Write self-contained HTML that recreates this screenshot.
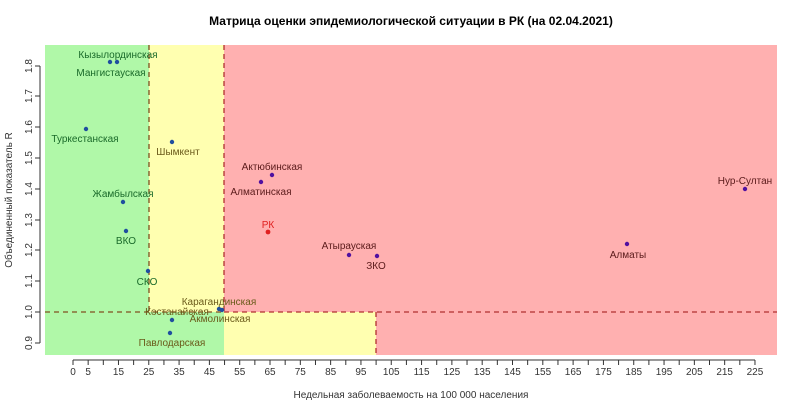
<!DOCTYPE html>
<html><head><meta charset="utf-8"><style>
body{margin:0;background:#fff}
svg text{font-family:"Liberation Sans",sans-serif}
</style></head><body>
<svg width="800" height="412" xmlns="http://www.w3.org/2000/svg">
<rect x="0" y="0" width="800" height="412" fill="#fff"/>
<text x="411" y="25" font-size="12" font-weight="bold" text-anchor="middle">Матрица оценки эпидемиологической ситуации в РК (на 02.04.2021)</text>
<!-- regions -->
<rect x="45" y="45" width="104" height="310" fill="#b0f8a8"/>
<rect x="149" y="312" width="75" height="43" fill="#b0f8a8"/>
<rect x="149" y="45" width="75" height="267" fill="#ffffb0"/>
<rect x="224" y="312" width="152" height="43" fill="#ffffb0"/>
<rect x="224" y="45" width="553" height="267" fill="#ffb0b0"/>
<rect x="376" y="312" width="401" height="43" fill="#ffb0b0"/>
<!-- dashed lines -->
<g stroke="#b03030" stroke-width="1.3" stroke-dasharray="5,4" fill="none">
<line x1="149" y1="45" x2="149" y2="312" stroke="#805020"/>
<line x1="224" y1="45" x2="224" y2="312"/>
<line x1="376" y1="312" x2="376" y2="355"/>
<line x1="45" y1="312" x2="224" y2="312" stroke="#805020"/>
<line x1="224" y1="312" x2="777" y2="312"/>
</g>
<!-- y axis -->
<g stroke="#333" stroke-width="1">
<line x1="40" y1="343" x2="40" y2="66"/>
<line x1="35" y1="343" x2="40" y2="343"/><line x1="35" y1="312" x2="40" y2="312"/>
<line x1="35" y1="281" x2="40" y2="281"/><line x1="35" y1="250" x2="40" y2="250"/>
<line x1="35" y1="220" x2="40" y2="220"/><line x1="35" y1="189" x2="40" y2="189"/>
<line x1="35" y1="158" x2="40" y2="158"/><line x1="35" y1="127" x2="40" y2="127"/>
<line x1="35" y1="96" x2="40" y2="96"/><line x1="35" y1="66" x2="40" y2="66"/>
</g>
<g font-size="10" fill="#333" text-anchor="middle">
<text transform="translate(32,343) rotate(-90)">0.9</text>
<text transform="translate(32,312) rotate(-90)">1.0</text>
<text transform="translate(32,281) rotate(-90)">1.1</text>
<text transform="translate(32,250) rotate(-90)">1.2</text>
<text transform="translate(32,220) rotate(-90)">1.3</text>
<text transform="translate(32,189) rotate(-90)">1.4</text>
<text transform="translate(32,158) rotate(-90)">1.5</text>
<text transform="translate(32,127) rotate(-90)">1.6</text>
<text transform="translate(32,96) rotate(-90)">1.7</text>
<text transform="translate(32,66) rotate(-90)">1.8</text>
<text transform="translate(12,200) rotate(-90)">Объединенный показатель R</text>
</g>
<!-- x axis -->
<g stroke="#333" stroke-width="1" id="xt">
<line x1="73" y1="360" x2="755" y2="360"/>
</g>
<g id="xl" font-size="10" fill="#333" text-anchor="middle"></g>
<text x="411" y="398" font-size="10" fill="#333" text-anchor="middle">Недельная заболеваемость на 100 000 населения</text>
<!-- points -->
<g fill="#1f4f9f">
<circle cx="110" cy="62" r="2.2"/><circle cx="117" cy="62" r="2.2"/>
<circle cx="86" cy="129" r="2.2"/><circle cx="123" cy="202" r="2.2"/>
<circle cx="126" cy="231" r="2.2"/><circle cx="148" cy="271" r="2.2"/>
<circle cx="172" cy="142" r="2.2"/><circle cx="219" cy="309" r="2.2"/>
<circle cx="222" cy="310" r="2.2"/><circle cx="172" cy="320" r="2.2"/>
<circle cx="170" cy="333" r="2.2"/>
</g>
<g fill="#5010a0">
<circle cx="272" cy="175" r="2.2"/><circle cx="261" cy="182" r="2.2"/>
<circle cx="349" cy="255" r="2.2"/><circle cx="377" cy="256" r="2.2"/>
<circle cx="627" cy="244" r="2.2"/><circle cx="745" cy="189" r="2.2"/>
</g>
<circle cx="268" cy="232" r="2.4" fill="#e02020"/>
<!-- labels -->
<g font-size="10" text-anchor="middle">
<g fill="#1a6a2a">
<text x="118" y="58">Кызылординская</text>
<text x="111" y="76">Мангистауская</text>
<text x="85" y="142">Туркестанская</text>
<text x="123" y="197">Жамбылская</text>
<text x="126" y="244">ВКО</text>
<text x="147" y="285">СКО</text>
</g>
<g fill="#6a5a1a">
<text x="178" y="155">Шымкент</text>
<text x="219" y="305">Карагандинская</text>
<text x="177" y="315">Костанайская</text>
<text x="220" y="322">Акмолинская</text>
<text x="172" y="346">Павлодарская</text>
</g>
<g fill="#5a1a1a">
<text x="272" y="170">Актюбинская</text>
<text x="261" y="195">Алматинская</text>
<text x="349" y="249">Атырауская</text>
<text x="376" y="269">ЗКО</text>
<text x="628" y="258">Алматы</text>
<text x="745" y="184">Нур-Султан</text>
</g>
<text x="268" y="228" fill="#e02020">РК</text>
</g>
<script>
var xt=document.getElementById('xt'),xl=document.getElementById('xl');
for(var v=0;v<=225;v+=5){var x=73+v*3.031;
var l=document.createElementNS('http://www.w3.org/2000/svg','line');
l.setAttribute('x1',x);l.setAttribute('x2',x);l.setAttribute('y1',360);l.setAttribute('y2',365);xt.appendChild(l);
if(v==0||v%10==5){var t=document.createElementNS('http://www.w3.org/2000/svg','text');
t.setAttribute('x',x);t.setAttribute('y',375);t.textContent=v;xl.appendChild(t);}}
</script>
</svg>
</body></html>
